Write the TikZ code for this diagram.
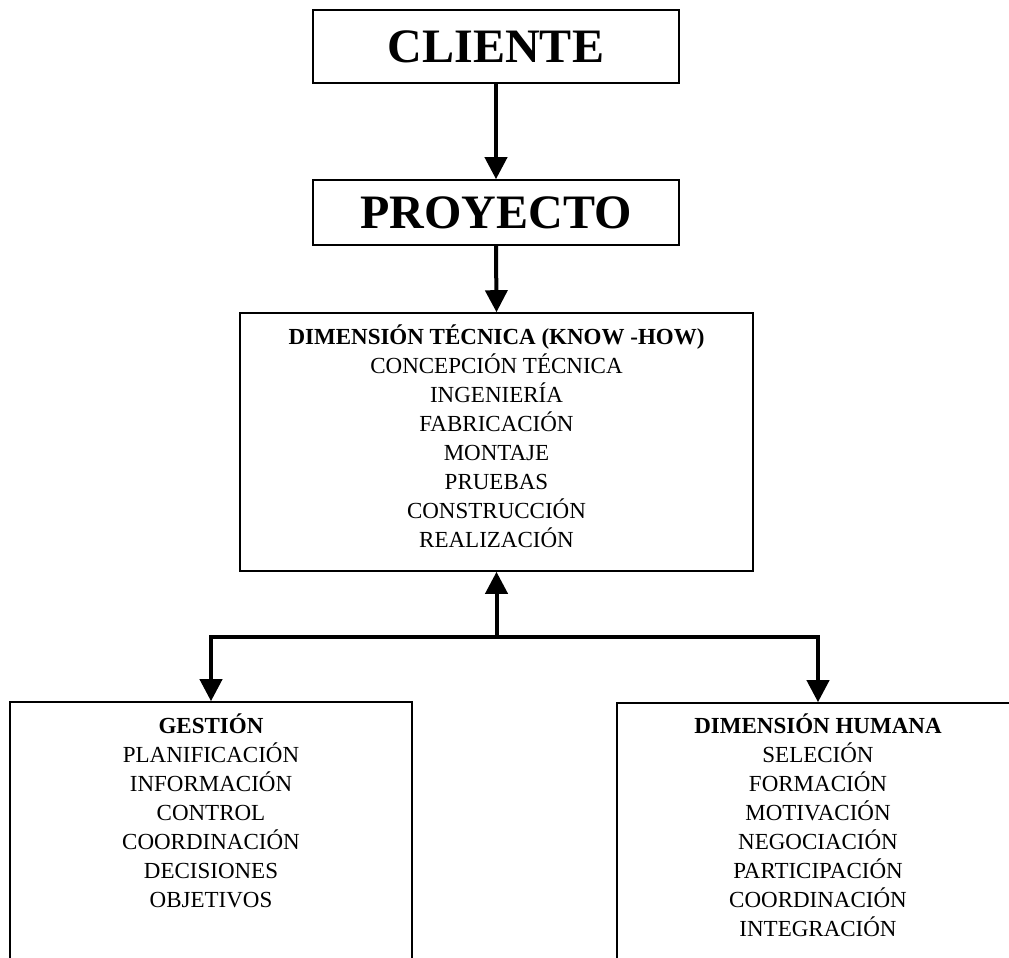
\documentclass[tikz,border=0pt]{standalone}
\usepackage{fontspec}
\setmainfont{Liberation Serif}
\usetikzlibrary{arrows.meta}
\begin{document}
\begin{tikzpicture}[x=1pt,y=1pt,
  box/.style={draw,line width=1.6pt,inner sep=0pt},
  body/.style={align=center,font=\fontsize{23}{29}\selectfont,inner sep=0pt},
  title/.style={font=\fontsize{48}{50}\selectfont\bfseries},
  arr/.style={line width=4pt,-{Triangle[width=22pt,length=22pt]}}]
\useasboundingbox (0,0) rectangle (1009,-958);
\node[box,title,minimum width=366pt,minimum height=73pt] (cliente) at (496,-46.5) {CLIENTE};
\node[box,title,minimum width=366pt,minimum height=65pt] (proyecto) at (496,-212.5) {PROYECTO};
\node[box,minimum width=513pt,minimum height=258pt] (dim) at (496.5,-442) {};
\node[body,anchor=north] (tdim) at (496.5,-325) {\textbf{DIMENSIÓN TÉCNICA (KNOW -HOW)}\\CONCEPCIÓN TÉCNICA\\INGENIERÍA\\FABRICACIÓN\\MONTAJE\\PRUEBAS\\CONSTRUCCIÓN\\REALIZACIÓN};
\node[box,minimum width=402pt,minimum height=298pt] (gest) at (211,-851) {};
\node[body,anchor=north] (tgest) at (211,-714) {\textbf{GESTIÓN}\\PLANIFICACIÓN\\INFORMACIÓN\\CONTROL\\COORDINACIÓN\\DECISIONES\\OBJETIVOS};
\node[box,minimum width=402pt,minimum height=297pt] (hum) at (818,-851.5) {};
\node[body,anchor=north] (thum) at (818,-714) {\textbf{DIMENSIÓN HUMANA}\\SELECIÓN\\FORMACIÓN\\MOTIVACIÓN\\NEGOCIACIÓN\\PARTICIPACIÓN\\COORDINACIÓN\\INTEGRACIÓN};
\coordinate (j) at (496.5,-637);
\draw[arr] (cliente.south) -- (proyecto.north);
\draw[arr] (proyecto.south) -- (dim.north);
\draw[arr] (j) -- (dim.south);
\draw[arr] (j) -| (gest.north);
\draw[arr] (j) -| (hum.north);
\end{tikzpicture}
\end{document}
